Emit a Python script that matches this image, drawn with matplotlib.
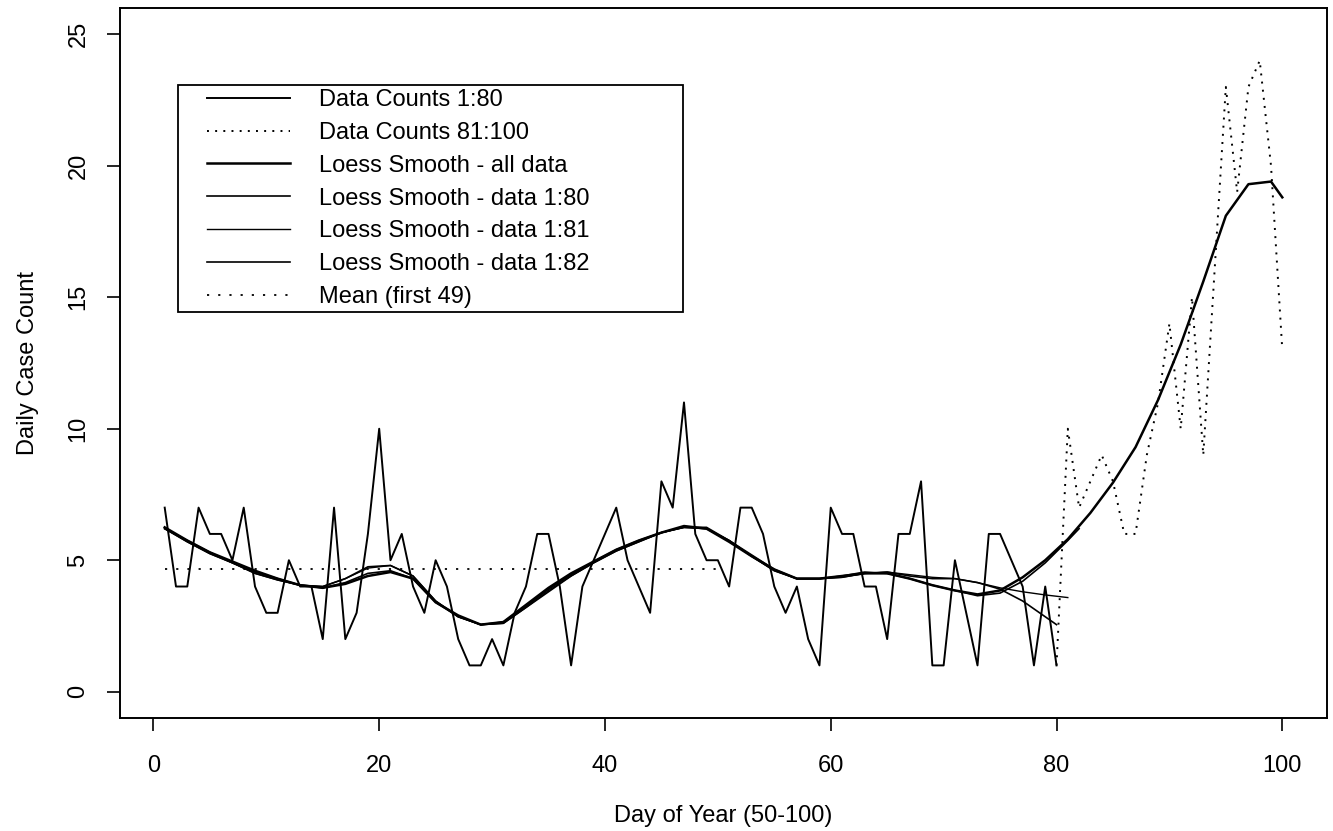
import numpy as np
import matplotlib
matplotlib.use("Agg")
import matplotlib.pyplot as plt
from matplotlib.patches import Rectangle

plt.rcParams["font.family"] = ["Liberation Sans", "DejaVu Sans"]

# daily counts, days 1..80 (solid) and 80..100 (dotted continuation)
counts_1_80 = [7, 4, 4, 7, 6, 6, 5, 7, 4, 3,
               3, 5, 4, 4, 2, 7, 2, 3, 6, 10,
               5, 6, 4, 3, 5, 4, 2, 1, 1, 2,
               1, 3, 4, 6, 6, 4, 1, 4, 5, 6,
               7, 5, 4, 3, 8, 7, 11, 6, 5, 5,
               4, 7, 7, 6, 4, 3, 4, 2, 1, 7,
               6, 6, 4, 4, 2, 6, 6, 8, 1, 1,
               5, 3, 1, 6, 6, 5, 4, 1, 4, 1]
counts_80_100 = [1, 10, 7, 8, 9, 8, 6, 6, 9, 11, 14,
                 10, 15, 9, 16, 23, 19, 23, 24, 20, 13]

# loess curves
smooth_days_all = [1, 3, 5, 7, 9, 11, 13, 15, 17, 19, 21, 23, 25, 27, 29, 31, 33,
                   35, 37, 39, 41, 43, 45, 47, 49, 51, 53, 55, 57, 59, 61, 63, 65,
                   67, 69, 71, 73, 75, 77, 79, 81, 83, 85, 87, 89, 91, 93, 95, 97,
                   99, 100]
smooth_all = [6.25, 5.75, 5.3, 4.95, 4.6, 4.3, 4.05, 3.95, 4.1, 4.4, 4.55, 4.3,
              3.4, 2.9, 2.55, 2.65, 3.3, 3.95, 4.5, 4.95, 5.4, 5.75, 6.05, 6.3,
              6.2, 5.7, 5.15, 4.65, 4.3, 4.3, 4.4, 4.5, 4.5, 4.3, 4.05, 3.85,
              3.7, 3.85, 4.35, 5.0, 5.8, 6.8, 7.95, 9.3, 11.1, 13.2, 15.6, 18.1,
              19.3, 19.4, 18.8]

smooth_days_80 = smooth_days_all[:40] + [80]
smooth_1_80 = [6.2, 5.7, 5.25, 4.9, 4.5, 4.25, 4.05, 4.0, 4.3, 4.75, 4.8, 4.4,
               3.45, 2.85, 2.55, 2.6, 3.2, 3.8, 4.4, 4.9, 5.35, 5.7, 6.05, 6.25,
               6.2, 5.75, 5.15, 4.6, 4.3, 4.3, 4.35, 4.5, 4.55, 4.4, 4.3, 4.3,
               4.15, 3.9, 3.45, 2.85, 2.55]

smooth_days_81 = smooth_days_all[:41]
smooth_1_81 = [6.2, 5.7, 5.25, 4.9, 4.5, 4.25, 4.05, 4.0, 4.3, 4.7, 4.8, 4.4,
               3.45, 2.85, 2.55, 2.6, 3.2, 3.85, 4.4, 4.9, 5.35, 5.7, 6.05, 6.25,
               6.2, 5.75, 5.15, 4.6, 4.3, 4.3, 4.35, 4.5, 4.55, 4.45, 4.35, 4.3,
               4.15, 3.95, 3.8, 3.68, 3.58]

smooth_days_82 = smooth_days_all[:41] + [82]
smooth_1_82 = [6.2, 5.75, 5.3, 4.9, 4.55, 4.3, 4.05, 3.95, 4.15, 4.5, 4.6, 4.3,
               3.4, 2.85, 2.55, 2.65, 3.25, 3.9, 4.45, 4.95, 5.4, 5.75, 6.05, 6.25,
               6.25, 5.75, 5.2, 4.65, 4.3, 4.3, 4.4, 4.55, 4.5, 4.3, 4.05, 3.85,
               3.65, 3.75, 4.2, 4.9, 5.75, 6.2]

days_1_80 = np.arange(1, 81)
days_80_100 = np.arange(80, 101)
mean_first49 = np.mean(counts_1_80[:49])

fig = plt.figure(figsize=(13.33, 8.31), dpi=100)
ax = fig.add_axes([120 / 1333, 113 / 831, 1207 / 1333, 710 / 831])

dotted = (0, (1, 3.2))
h1, = ax.plot(days_1_80, counts_1_80, color="black", lw=1.4)
h2, = ax.plot(days_80_100, counts_80_100, color="black", lw=1.4, ls=dotted)
h3, = ax.plot(smooth_days_all, smooth_all, color="black", lw=1.8)
h4, = ax.plot(smooth_days_80, smooth_1_80, color="black", lw=1.2)
h5, = ax.plot(smooth_days_81, smooth_1_81, color="black", lw=1.0)
h6, = ax.plot(smooth_days_82, smooth_1_82, color="black", lw=1.2)
h7, = ax.plot([1, 50], [mean_first49, mean_first49], color="black", lw=1.3,
              ls=(0, (1.2, 5)))

ax.set_xlim(-2.96, 103.96)
ax.set_ylim(-1.0, 26.0)
ax.set_xticks([0, 20, 40, 60, 80, 100])
ax.set_yticks([0, 5, 10, 15, 20, 25])
ax.tick_params(axis="both", direction="out", length=9.5, width=1.2,
               labelsize=17, color="black")
ax.tick_params(axis="x", pad=17.5)
ax.tick_params(axis="y", pad=12.5, labelrotation=90)
for lab in ax.get_yticklabels():
    lab.set_va("center")
for sp in ax.spines.values():
    sp.set_linewidth(1.4)

ax.set_xlabel("Day of Year (50-100)", fontsize=17)
ax.set_ylabel("Daily Case Count", fontsize=17)
ax.xaxis.set_label_coords(0.5, -98 / 710)
ax.xaxis.label.set_va("center")
ax.yaxis.set_label_coords(-92 / 1207, 0.5)
ax.yaxis.label.set_va("center")

# legend box drawn separately so padding matches the original
box_x0 = (178 - 120) / 1207
box_y0 = (718 - 312) / 710
ax.add_patch(Rectangle((box_x0, box_y0), (683 - 178) / 1207, (312 - 85) / 710,
                       transform=ax.transAxes, fill=False, lw=1.3,
                       edgecolor="black", zorder=5))
ax.legend([h1, h2, h3, h4, h5, h6, h7],
          ["Data Counts 1:80", "Data Counts 81:100", "Loess Smooth - all data",
           "Loess Smooth - data 1:80", "Loess Smooth - data 1:81",
           "Loess Smooth - data 1:82", "Mean (first 49)"],
          loc="upper left", bbox_to_anchor=((207 - 120) / 1207, (718 - 89) / 710),
          borderaxespad=0, borderpad=0, frameon=False, fontsize=17,
          handlelength=3.5, handletextpad=1.25, labelspacing=0.46)

fig.savefig("out.png", dpi=100, facecolor="white")
